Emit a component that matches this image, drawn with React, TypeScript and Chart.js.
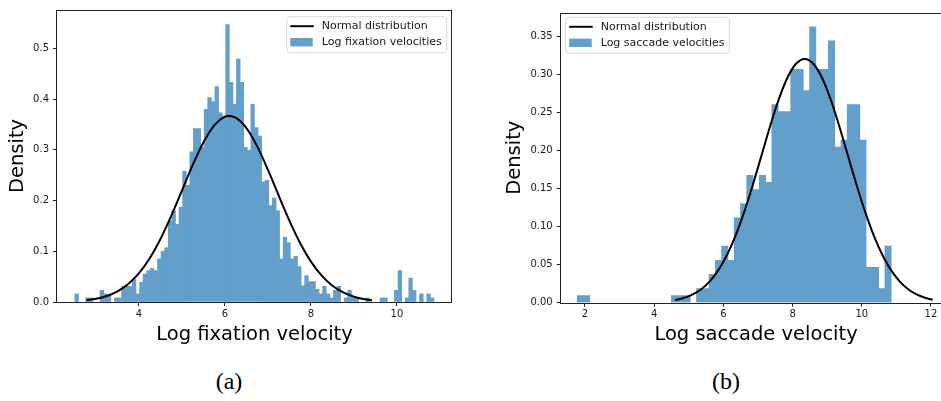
import React, { useEffect, useRef } from "react";
import { Chart, registerables } from "chart.js";

Chart.register(...registerables);

const FONT = '"DejaVu Sans", Verdana, sans-serif';
const HIST_COLOR = "rgb(98, 159, 203)";
const TEXT_COLOR = "#1a1a1a";

// ---------------- (a) Log fixation velocity ----------------
const fixBinStart = 2.51;
const fixBinWidth = 0.0835;
const fixDensity = [
  0.016, 0, 0, 0.008, 0.008, 0, 0, 0.023, 0.016, 0.012,
  0, 0.008, 0.008, 0.031, 0.031, 0.031, 0.044, 0.016, 0.039, 0.055,
  0.062, 0.066, 0.062, 0.085, 0.1, 0.107, 0.16, 0.18, 0.153, 0.187,
  0.258, 0.23, 0.296, 0.342, 0.342, 0.305, 0.38, 0.403, 0.395, 0.425,
  0.373, 0.367, 0.547, 0.433, 0.39, 0.479, 0.433, 0.305, 0.299, 0.39,
  0.344, 0.327, 0.237, 0.24, 0.19, 0.205, 0.18, 0.085, 0.128, 0.117,
  0.085, 0.09, 0.07, 0.032, 0.052, 0.04, 0.04, 0.025, 0.016, 0.031,
  0.016, 0.008, 0.023, 0.031, 0, 0.008, 0.023, 0.008, 0.008, 0,
  0, 0.008, 0, 0, 0, 0.008, 0.008, 0, 0, 0.023,
  0.062, 0, 0.008, 0.047, 0.023, 0, 0.016, 0, 0.016, 0.008,
];
const fixCurveX = [
  2.78, 3.0, 3.25, 3.5, 3.75, 4.0, 4.25, 4.5, 4.75, 5.0, 5.25, 5.5, 5.75, 6.0, 6.1,
  6.25, 6.5, 6.75, 7.0, 7.25, 7.5, 7.75, 8.0, 8.25, 8.5, 8.75, 9.0, 9.25, 9.42,
];
const fixCurveY = [
  0.0035, 0.0063, 0.0118, 0.021, 0.0355, 0.0568, 0.0862, 0.1242, 0.1697, 0.2199,
  0.2703, 0.3151, 0.3485, 0.3655, 0.367, 0.3635, 0.343, 0.3069, 0.2605, 0.2097,
  0.1601, 0.116, 0.0796, 0.0519, 0.0321, 0.0188, 0.0104, 0.0055, 0.0035,
];
const fixXTicks = [4, 6, 8, 10];
const fixYTicks = [0, 0.1, 0.2, 0.3, 0.4, 0.5];

// ---------------- (b) Log saccade velocity ----------------
const sacBinStart = 1.775;
const sacBinWidth = 0.1815;
const sacDensity = [
  0.0093, 0.0093, 0, 0, 0, 0, 0, 0, 0, 0,
  0, 0, 0, 0, 0, 0.0093, 0.0093, 0.0093, 0, 0.0186,
  0.0186, 0.0373, 0.0559, 0.0745, 0.0559, 0.1118, 0.1304, 0.1676, 0.149, 0.1676,
  0.1583, 0.2608, 0.2515, 0.2515, 0.3073, 0.3073, 0.2794, 0.3632, 0.3073, 0.3073,
  0.3446, 0.2049, 0.2142, 0.2608, 0.2608, 0.2142, 0.0466, 0.0466, 0.0186, 0.0745,
];
const sacCurveX = [
  4.6, 4.85, 5.1, 5.35, 5.6, 5.85, 6.1, 6.35, 6.6, 6.85, 7.1, 7.35, 7.6, 7.85, 8.1,
  8.35, 8.6, 8.85, 9.1, 9.35, 9.6, 9.85, 10.1, 10.35, 10.6, 10.85, 11.1, 11.35, 11.6,
  11.85, 12.05,
];
const sacCurveY = [
  0.0034, 0.0061, 0.0105, 0.0174, 0.0278, 0.0425, 0.0624, 0.088, 0.1192, 0.155,
  0.1936, 0.2323, 0.2676, 0.2961, 0.3146, 0.321, 0.3146, 0.2961, 0.2676, 0.2323,
  0.1936, 0.155, 0.1192, 0.088, 0.0624, 0.0425, 0.0278, 0.0174, 0.0105, 0.0061,
  0.0038,
];
const sacXTicks = [2, 4, 6, 8, 10, 12];
const sacYTicks = [0, 0.05, 0.1, 0.15, 0.2, 0.25, 0.3, 0.35];

const CURVE_LABEL = "Normal distribution";

const framePlugin = {
  id: "frame",
  afterDatasetsDraw(chart: any) {
    const { ctx, chartArea } = chart;
    ctx.save();
    ctx.strokeStyle = "#222";
    ctx.lineWidth = 1;
    const l = Math.round(chartArea.left) - 0.5;
    const t = Math.round(chartArea.top) + 0.5;
    const r = Math.round(chartArea.right) - 0.5;
    const b = Math.round(chartArea.bottom) + 0.5;
    ctx.strokeRect(l, t, r - l, b - t);
    ctx.restore();
  },
};

const boxLegendPlugin = {
  id: "boxLegend",
  afterDraw(chart: any, _args: any, opts: any) {
    const { ctx, chartArea } = chart;
    const datasets = chart.data.datasets;
    ctx.save();
    ctx.font = `11px ${FONT}`;
    const textW = Math.max(...datasets.map((d: any) => ctx.measureText(d.label).width));
    const padL = 3.5;
    const handleW = 23.5;
    const gap = 8;
    const padR = 5;
    const w = padL + handleW + gap + textW + padR;
    const h = 36;
    const x0 = opts.side === "right" ? chartArea.right - opts.insetX - w : chartArea.left + opts.insetX;
    const y0 = chartArea.top + opts.insetY;
    ctx.beginPath();
    if (ctx.roundRect) ctx.roundRect(x0, y0, w, h, 3);
    else ctx.rect(x0, y0, w, h);
    ctx.fillStyle = "rgba(255,255,255,0.85)";
    ctx.fill();
    ctx.strokeStyle = "#d8d8d8";
    ctx.lineWidth = 1;
    ctx.stroke();
    const order = [...datasets].sort((a: any, b: any) => (a.type === "line" ? -1 : 1));
    order.forEach((d: any, i: number) => {
      const cy = y0 + 9.5 + i * 16;
      const hx = x0 + padL;
      if (d.type === "line") {
        ctx.beginPath();
        ctx.moveTo(hx, cy);
        ctx.lineTo(hx + handleW, cy);
        ctx.strokeStyle = d.borderColor;
        ctx.lineWidth = 2;
        ctx.stroke();
      } else {
        ctx.fillStyle = d.backgroundColor;
        ctx.fillRect(hx, cy - 4.2, handleW - 1, 8.4);
      }
      ctx.fillStyle = TEXT_COLOR;
      ctx.textBaseline = "middle";
      ctx.textAlign = "left";
      ctx.fillText(d.label, hx + handleW + gap, cy);
    });
    ctx.restore();
  },
};

type PanelProps = {
  left: number;
  width: number;
  binStart: number;
  binWidth: number;
  density: number[];
  curveX: number[];
  curveY: number[];
  xMin: number;
  xMax: number;
  yMax: number;
  xTicks: number[];
  yTicks: number[];
  yDecimals: number;
  xTitle: string;
  histLabel: string;
  padTop: number;
  padRight: number;
  yAxisWidth: number;
  xAxisHeight: number;
  yTitlePad: number;
  legendSide: string;
  legendInsetX: number;
  legendInsetY: number;
};

const HEIGHT = 350;

function HistPanel(p: PanelProps) {
  const ref = useRef<HTMLCanvasElement>(null);
  useEffect(() => {
    if (!ref.current) return;
    const bars = p.density.map((d, i) => ({
      x: p.binStart + p.binWidth * (i + 0.5),
      y: d > 0 ? d : null,
    }));
    const curve = p.curveX.map((x, i) => ({ x, y: p.curveY[i] }));
    const chart = new Chart(ref.current, {
      type: "bar",
      data: {
        datasets: [
          {
            type: "line",
            label: CURVE_LABEL,
            data: curve,
            borderColor: "#000",
            borderWidth: 2,
            pointRadius: 0,
            cubicInterpolationMode: "monotone",
            fill: false,
            order: 0,
          } as any,
          {
            type: "bar",
            label: p.histLabel,
            data: bars,
            backgroundColor: HIST_COLOR,
            borderWidth: 0,
            barPercentage: 1,
            categoryPercentage: 1,
            inflateAmount: 0.35,
            order: 1,
          } as any,
        ],
      },
      options: {
        responsive: false,
        animation: false,
        events: [],
        layout: { padding: { top: p.padTop, right: p.padRight, left: 0, bottom: 0 } },
        plugins: {
          legend: { display: false },
          tooltip: { enabled: false },
          boxLegend: { side: p.legendSide, insetX: p.legendInsetX, insetY: p.legendInsetY },
        } as any,
        scales: {
          x: {
            type: "linear",
            min: p.xMin,
            max: p.xMax,
            offset: false,
            grid: { drawOnChartArea: false, offset: false, tickLength: 4, color: "#222", tickWidth: 1 },
            border: { display: false },
            ticks: {
              font: { family: FONT, size: 10 },
              color: TEXT_COLOR,
              padding: 2,
              maxRotation: 0,
              autoSkip: false,
              callback: (v: any) => String(v),
            },
            afterBuildTicks: (s: any) => {
              s.ticks = p.xTicks.map((v) => ({ value: v }));
            },
            afterFit: (s: any) => {
              s.height = p.xAxisHeight;
            },
            title: {
              display: true,
              text: p.xTitle,
              font: { family: FONT, size: 19.5 },
              color: "#000",
              padding: { top: 0, bottom: 3.3 },
            },
          } as any,
          y: {
            type: "linear",
            min: 0,
            max: p.yMax,
            grid: { drawOnChartArea: false, tickLength: 4, color: "#222", tickWidth: 1 },
            border: { display: false },
            ticks: {
              font: { family: FONT, size: 10 },
              color: TEXT_COLOR,
              padding: 4,
              autoSkip: false,
              callback: (v: any) => Number(v).toFixed(p.yDecimals),
            },
            afterBuildTicks: (s: any) => {
              s.ticks = p.yTicks.map((v) => ({ value: v }));
            },
            afterFit: (s: any) => {
              s.width = p.yAxisWidth;
            },
            title: {
              display: true,
              text: "Density",
              font: { family: FONT, size: 19.5 },
              color: "#000",
              padding: { top: p.yTitlePad, bottom: 0 },
            },
          } as any,
        },
      },
      plugins: [framePlugin, boxLegendPlugin],
    });
    return () => chart.destroy();
  }, []);
  return (
    <canvas
      ref={ref}
      width={p.width}
      height={HEIGHT}
      style={{ position: "absolute", left: p.left, top: 0, width: p.width, height: HEIGHT }}
    />
  );
}

const captionStyle: React.CSSProperties = {
  position: "absolute",
  top: 364,
  width: 60,
  textAlign: "center",
  fontFamily: '"Liberation Serif", "Times New Roman", serif',
  fontSize: 24,
  lineHeight: "34px",
  color: "#000",
};

export default function App() {
  useEffect(() => {
    document.body.style.margin = "0";
  }, []);
  return (
    <div
      style={{
        position: "fixed",
        left: 0,
        top: 0,
        width: 941,
        height: 401,
        overflow: "hidden",
        background: "#fff",
      }}
    >
      <HistPanel
        left={0}
        width={460}
        binStart={fixBinStart}
        binWidth={fixBinWidth}
        density={fixDensity}
        curveX={fixCurveX}
        curveY={fixCurveY}
        xMin={2.093}
        xMax={11.28}
        yMax={0.5759}
        xTicks={fixXTicks}
        yTicks={fixYTicks}
        yDecimals={1}
        xTitle="Log fixation velocity"
        histLabel="Log fixation velocities"
        padTop={6}
        padRight={8}
        yAxisWidth={57}
        xAxisHeight={48}
        yTitlePad={6.3}
        legendSide="right"
        legendInsetX={5.3}
        legendInsetY={6.7}
      />
      <HistPanel
        left={490}
        width={470}
        binStart={sacBinStart}
        binWidth={sacBinWidth}
        density={sacDensity}
        curveX={sacCurveX}
        curveY={sacCurveY}
        xMin={1.298}
        xMax={12.59}
        yMax={0.3818}
        xTicks={sacXTicks}
        yTicks={sacYTicks}
        yDecimals={2}
        xTitle="Log saccade velocity"
        histLabel="Log saccade velocities"
        padTop={12.7}
        padRight={8.6}
        yAxisWidth={70.7}
        xAxisHeight={47.3}
        yTitlePad={13.3}
        legendSide="left"
        legendInsetX={5}
        legendInsetY={4.6}
      />
      <div style={{ ...captionStyle, left: 229 - 30 }}>(a)</div>
      <div style={{ ...captionStyle, left: 726 - 30 }}>(b)</div>
    </div>
  );
}
